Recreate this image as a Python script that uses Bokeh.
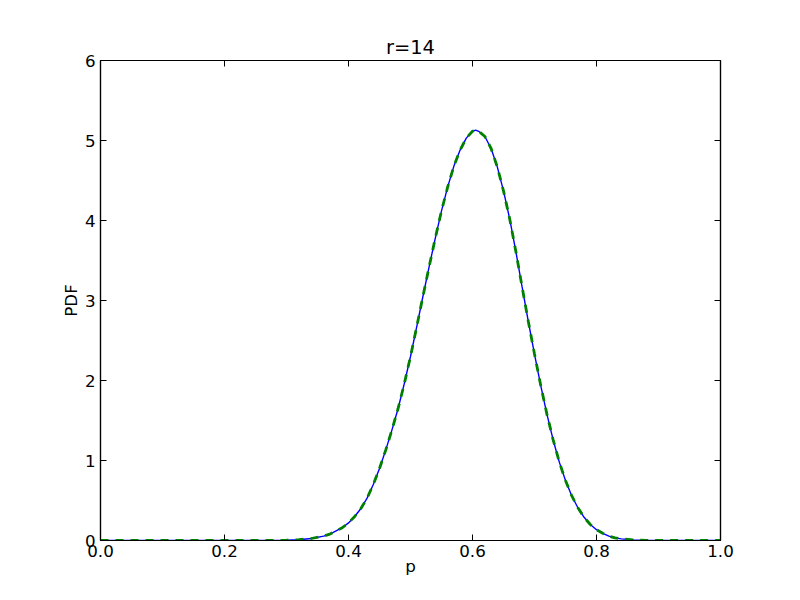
from bokeh.plotting import figure
from bokeh.models import LinearAxis, FixedTicker, Range1d
from bokeh.embed import file_html
from bokeh.resources import INLINE

title = "r=14"
x_label = "p"
y_label = "PDF"

p_vals = [0.0, 0.05, 0.10, 0.15, 0.20, 0.25, 0.30, 0.32, 0.34, 0.36, 0.37, 0.38, 0.39,
          0.40, 0.41, 0.42, 0.43, 0.44, 0.45, 0.46, 0.47, 0.48, 0.49,
          0.50, 0.51, 0.52, 0.53, 0.54, 0.55, 0.56, 0.57, 0.58, 0.59,
          0.60, 0.605, 0.61, 0.62, 0.63, 0.64, 0.65, 0.66, 0.67, 0.68, 0.69,
          0.70, 0.71, 0.72, 0.73, 0.74, 0.75, 0.76, 0.77, 0.78, 0.79,
          0.80, 0.81, 0.82, 0.83, 0.84, 0.86, 0.88, 0.90, 0.95, 1.0]
pdf_exact = [0.0, 0.0, 0.0, 0.0, 0.0, 0.0, 0.003, 0.01, 0.025, 0.055, 0.08, 0.12, 0.16,
             0.22, 0.30, 0.40, 0.53, 0.70, 0.90, 1.13, 1.38, 1.65, 1.96,
             2.30, 2.67, 3.05, 3.42, 3.78, 4.12, 4.42, 4.68, 4.88, 5.03,
             5.115, 5.13, 5.115, 5.05, 4.90, 4.67, 4.37, 4.02, 3.61, 3.17, 2.74,
             2.33, 1.94, 1.58, 1.26, 0.98, 0.75, 0.56, 0.41, 0.29, 0.20,
             0.135, 0.09, 0.055, 0.033, 0.02, 0.006, 0.001, 0.0, 0.0, 0.0]
pdf_approx = list(pdf_exact)

x_ticks = [0.0, 0.2, 0.4, 0.6, 0.8, 1.0]
y_ticks = [0, 1, 2, 3, 4, 5, 6]

FONT = "DejaVu Sans"

p = figure(width=792, height=592, output_backend="svg", toolbar_location=None,
           x_range=Range1d(0, 1), y_range=Range1d(0, 6),
           min_border_left=100, min_border_right=72, min_border_top=60, min_border_bottom=52,
           x_axis_location=None, y_axis_location=None)
p.title.text = title
p.title.align = "center"
p.title.text_font = FONT
p.title.text_font_size = "19.4px"
p.title.text_font_style = "normal"
p.title.text_color = "black"
p.title.standoff = 3

p.grid.visible = False
p.outline_line_color = "black"
p.outline_line_width = 1.2
p.outline_line_alpha = 1
p.background_fill_color = "white"
p.border_fill_color = "white"

def make_axis(ticks, label, labels_visible, fmt):
    ax = LinearAxis(ticker=FixedTicker(ticks=ticks))
    ax.major_tick_in = 6
    ax.major_tick_out = 0
    ax.minor_tick_in = 0
    ax.minor_tick_out = 0
    ax.axis_line_color = "black"
    ax.axis_line_width = 1.2
    ax.major_tick_line_color = "black"
    ax.major_label_text_font = FONT
    ax.major_label_text_font_size = "16.7px"
    ax.major_label_text_color = "black"
    ax.axis_label_text_font = FONT
    ax.axis_label_text_font_size = "16.7px"
    ax.axis_label_text_font_style = "normal"
    ax.axis_label_text_color = "black"
    if label:
        ax.axis_label = label
    if not labels_visible:
        ax.major_label_text_alpha = 0
        ax.major_label_text_font_size = "0px"
    if fmt:
        ax.major_label_overrides = fmt
    return ax

xfmt = {t: f"{t:.1f}" for t in x_ticks}
yfmt = {t: f"{t}" for t in y_ticks}

bottom = make_axis(x_ticks, x_label, True, xfmt)
bottom.major_label_standoff = 4
bottom.axis_label_standoff = -4
left = make_axis(y_ticks, y_label, True, yfmt)
left.major_label_standoff = 5
left.axis_label_standoff = 1
top = make_axis(x_ticks, None, False, None)
right = make_axis(y_ticks, None, False, None)

p.add_layout(bottom, "below")
p.add_layout(left, "left")
p.add_layout(top, "above")
p.add_layout(right, "right")

p.line(p_vals, pdf_exact, line_color="blue", line_width=1.4)
p.line(p_vals, pdf_approx, line_color="green", line_width=2.8, line_dash="8 7")

open("out.html", "w").write(file_html(p, INLINE))
